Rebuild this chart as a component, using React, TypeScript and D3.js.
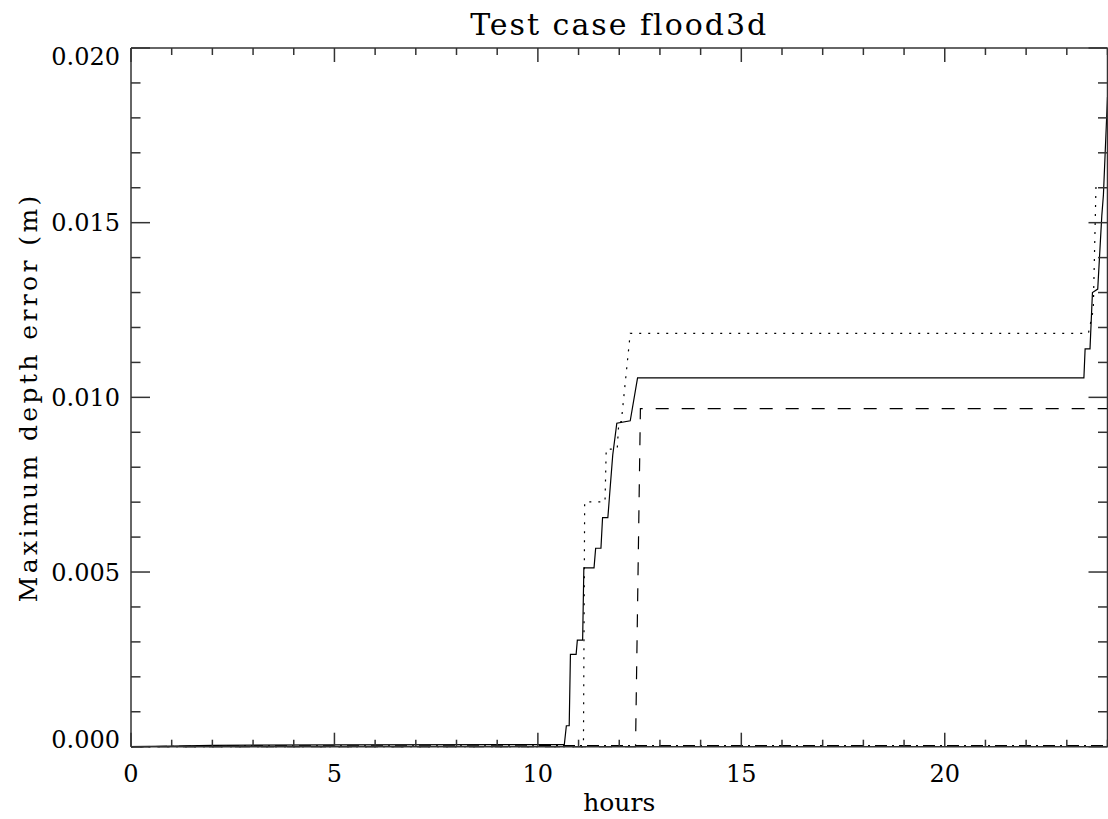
import React from "react";
import * as d3 from "d3";

const title = "Test case flood3d";
const xLabel = "hours";
const yLabel = "Maximum depth error (m)";

const xTicksMajor = [0, 5, 10, 15, 20];
const yTicksMajor = [0, 0.005, 0.01, 0.015, 0.02];
const yTickLabels = ["0.000", "0.005", "0.010", "0.015", "0.020"];

// solid series [hours, error]
const solidH = [0, 1, 2, 5, 10.65, 10.7, 10.77, 10.8, 10.94, 10.97, 11.1, 11.13, 11.38, 11.42, 11.55, 11.59, 11.72, 11.76, 11.84, 11.94, 12.27, 12.45, 23.42, 23.45, 23.57, 23.63, 23.76, 23.86, 23.9, 24.0];
const solidV = [0, 0.00002, 0.00004, 0.00005, 0.00006, 0.0006, 0.0006, 0.00264, 0.00264, 0.00305, 0.00305, 0.00512, 0.00512, 0.00568, 0.00568, 0.00656, 0.00656, 0.00716, 0.00835, 0.00926, 0.00933, 0.01056, 0.01056, 0.01139, 0.01139, 0.0130, 0.0131, 0.0152, 0.0158, 0.0186];

// dotted series
const dottedH = [0, 11.12, 11.15, 11.65, 11.68, 11.95, 11.99, 12.05, 12.27, 23.53, 23.65, 23.72];
const dottedV = [0, 0, 0.00701, 0.00701, 0.00852, 0.00852, 0.0093, 0.0093, 0.01183, 0.01183, 0.0125, 0.0162];

// dashed series
const dashedH = [0, 12.4, 12.52, 24];
const dashedV = [0, 0, 0.00968, 0.00968];

// dash-dot series
const dashDotH = [0, 2, 12, 24];
const dashDotV = [0, 0.00002, 0.00003, 0.00003];

const W = 1108;
const H = 819;
const M = { left: 131, right: 1107.5, top: 48, bottom: 746.7 };

const FONT = "'DejaVu Serif', serif";

export default function App() {
  const x = d3.scaleLinear().domain([0, 24]).range([M.left, M.right]);
  const y = d3.scaleLinear().domain([0, 0.02]).range([M.bottom, M.top]);
  const line = d3
    .line<[number, number]>()
    .x((d) => x(d[0]))
    .y((d) => y(d[1]));
  const zip = (a: number[], b: number[]) => a.map((v, i) => [v, b[i]] as [number, number]);

  const xMinor = d3.range(0, 25, 1);
  const yMinor = d3.range(0, 21, 1).map((i) => i * 0.001);

  const axisColor = "#333";
  const xMajLen = 14, xMinLen = 7, yMajLen = 19, yMinLen = 9.5;
  const nY = yTicksMajor.length;

  return (
    <svg width={W} height={H} style={{ position: "fixed", left: 0, top: 0, background: "#fff" }}>
      <rect x={0} y={0} width={W} height={H} fill="#fff" />
      <g fill="none" stroke="#000" strokeWidth={1.2}>
        <path d={line(zip(dashDotH, dashDotV)) || ""} strokeDasharray="12,5,2,5" />
        <path d={line(zip(dashedH, dashedV)) || ""} strokeDasharray="13,13" />
        <path d={line(zip(dottedH, dottedV)) || ""} strokeDasharray="2,7" />
        <path d={line(zip(solidH, solidV)) || ""} />
      </g>
      {/* frame */}
      <g stroke={axisColor} strokeWidth={1.5} fill="none">
        <line x1={M.left} x2={M.right} y1={M.bottom} y2={M.bottom} />
        <line x1={M.left} x2={M.right} y1={M.top} y2={M.top} />
        <line x1={M.left} x2={M.left} y1={M.top} y2={M.bottom} />
        <line x1={M.right} x2={M.right} y1={M.top} y2={M.bottom} />
        {xMinor.map((t) => {
          const len = t % 5 === 0 ? xMajLen : xMinLen;
          return (
            <g key={"xt" + t}>
              <line x1={x(t)} x2={x(t)} y1={M.bottom} y2={M.bottom - len} />
              <line x1={x(t)} x2={x(t)} y1={M.top} y2={M.top + len} />
            </g>
          );
        })}
        {yMinor.map((t, i) => {
          const len = i % 5 === 0 ? yMajLen : yMinLen;
          return (
            <g key={"yt" + i}>
              <line x1={M.left} x2={M.left + len} y1={y(t)} y2={y(t)} />
              <line x1={M.right} x2={M.right - len} y1={y(t)} y2={y(t)} />
            </g>
          );
        })}
      </g>
      <g fontFamily={FONT} fontSize={24} fill="#000">
        {xTicksMajor.map((t) => (
          <text key={"xl" + t} x={x(t)} y={782} textAnchor="middle">
            {String(t)}
          </text>
        ))}
        {yTicksMajor.map((t, i) => {
          const shift = i === 0 ? -7 : i === nY - 1 ? 8 : 0;
          return (
            <text key={"yl" + i} x={120} y={y(t) + shift} dy="0.36em" textAnchor="end">
              {yTickLabels[i]}
            </text>
          );
        })}
      </g>
      <text x={(M.left + M.right) / 2} y={811} textAnchor="middle" fontFamily={FONT} fontSize={25}>
        {xLabel}
      </text>
      <text
        transform={`translate(37,${(M.top + M.bottom) / 2}) rotate(-90)`}
        textAnchor="middle"
        fontFamily={FONT}
        fontSize={25}
        letterSpacing={3.4}
      >
        {yLabel}
      </text>
      <text x={(M.left + M.right) / 2} y={35} textAnchor="middle" fontFamily={FONT} fontSize={30} letterSpacing={2}>
        {title}
      </text>
    </svg>
  );
}
